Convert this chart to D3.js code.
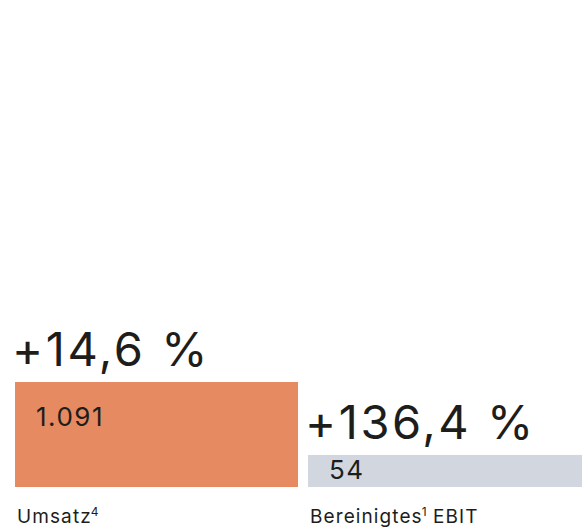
<!DOCTYPE html>
<html><head><meta charset="utf-8">
<script src="https://cdn.jsdelivr.net/npm/d3@7"></script>
<style>body{margin:0;background:#fff}svg{display:block}text{font-family:Inter,"Liberation Sans",Arial,sans-serif;fill:#1d1d1b}</style>
</head><body><div id="chart"></div>
<script>
const categories = ["Umsatz", "Bereinigtes EBIT"];
const footnotes = ["4", "1"];
const values = [1091, 54];
const valueLabels = ["1.091", "54"];
const changeLabels = ["+14,6 %", "+136,4 %"];
const colors = ["#E68A61", "#D2D7DF"];

const W = 582, H = 527;
const svg = d3.select("#chart").append("svg").attr("width", W).attr("height", H);
const x = d3.scaleBand().domain(categories).range([15, 591]).paddingInner(0.0341).paddingOuter(0);
const y = d3.scaleLog().domain([14.4, 1091]).range([487, 382]);
const data = categories.map((c, i) => ({c, v: values[i], vl: valueLabels[i], ch: changeLabels[i], col: colors[i], fn: footnotes[i]}));

const g = svg.selectAll("g.bar").data(data).enter().append("g");
g.append("rect")
  .attr("x", d => x(d.c)).attr("width", x.bandwidth())
  .attr("y", d => y(d.v)).attr("height", d => y.range()[0] - y(d.v))
  .attr("fill", d => d.col);
g.append("text")
  .attr("x", d => x(d.c) + 21)
  .attr("y", d => Math.min(y(d.v) + 44, y.range()[0] - 8))
  .attr("font-size", 26).attr("letter-spacing", 1.5).text(d => d.vl);
g.append("text")
  .attr("x", d => x(d.c) - 3)
  .attr("y", d => y(d.v) - 16)
  .attr("font-size", 47).attr("letter-spacing", 2.6).text(d => d.ch);
const lab = g.append("text")
  .attr("x", d => x(d.c) + 2)
  .attr("y", 523).attr("font-size", 19).attr("letter-spacing", 1.1);
lab.each(function(d) {
  const t = d3.select(this);
  const parts = d.c.split(" ");
  t.append("tspan").text(parts[0]);
  t.append("tspan").attr("font-size", 12).attr("dx", -1).attr("dy", -7).attr("letter-spacing", 0).text(d.fn);
  if (parts.length > 1) t.append("tspan").attr("dy", 7).text(" " + parts.slice(1).join(" "));
});
</script></body></html>
